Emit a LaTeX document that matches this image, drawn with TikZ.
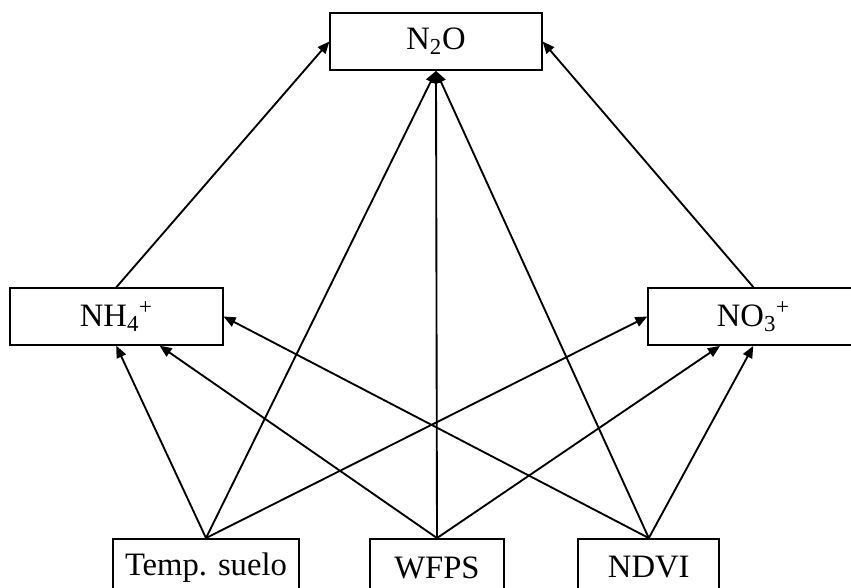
\documentclass[tikz,border=0pt]{standalone}
\usepackage{fontspec}
\setmainfont{Liberation Serif}
\usetikzlibrary{arrows.meta}
\begin{document}
\begin{tikzpicture}[x=0.75pt,y=-0.75pt,
  box/.style={draw, line width=1.4pt, rectangle, inner sep=0pt, font=\fontsize{24.5}{29}\selectfont},
  arr/.style={line width=1.4pt, -{Triangle[length=9pt,width=7.5pt]}}]
\useasboundingbox (0,0) rectangle (851,588);
\clip (0,0) rectangle (851,588);
\node[box, minimum width=158.5pt, minimum height=42.75pt] (n2o) at (436,41.5) {N\textsubscript{2}O};
\node[box, minimum width=159.5pt, minimum height=42.4pt] (nh4) at (116.3,316.5) {NH\textsubscript{4}\textsuperscript{+}};
\node[box, minimum width=157.5pt, minimum height=42.75pt] (no3) at (753.3,316.5) {NO\textsubscript{3}\textsuperscript{+}};
\node[box, minimum width=140pt, minimum height=42.75pt] (temp) at (206,567.5) {Temp. suelo};
\node[box, minimum width=100.5pt, minimum height=42.75pt] (wfps) at (437,567.5) {WFPS};
\node[box, minimum width=105.8pt, minimum height=42.75pt] (ndvi) at (648.8,567.5) {NDVI};
% to N2O
\draw[arr] (nh4.north) -- (n2o.west);
\draw[arr] (no3.north) -- (n2o.east);
\draw[arr] (temp.north) -- (n2o.south);
\draw[arr] (wfps.north) -- (n2o.south);
\draw[arr] (ndvi.north) -- (n2o.south);
% to NH4
\draw[arr] (temp.north) -- (nh4.south);
\draw[arr] (wfps.north) -- ([xshift=32.5pt]nh4.south);
\draw[arr] (ndvi.north) -- (nh4.east);
% to NO3
\draw[arr] (temp.north) -- (no3.west);
\draw[arr] (wfps.north) -- ([xshift=-25pt]no3.south);
\draw[arr] (ndvi.north) -- (no3.south);
\end{tikzpicture}
\end{document}
